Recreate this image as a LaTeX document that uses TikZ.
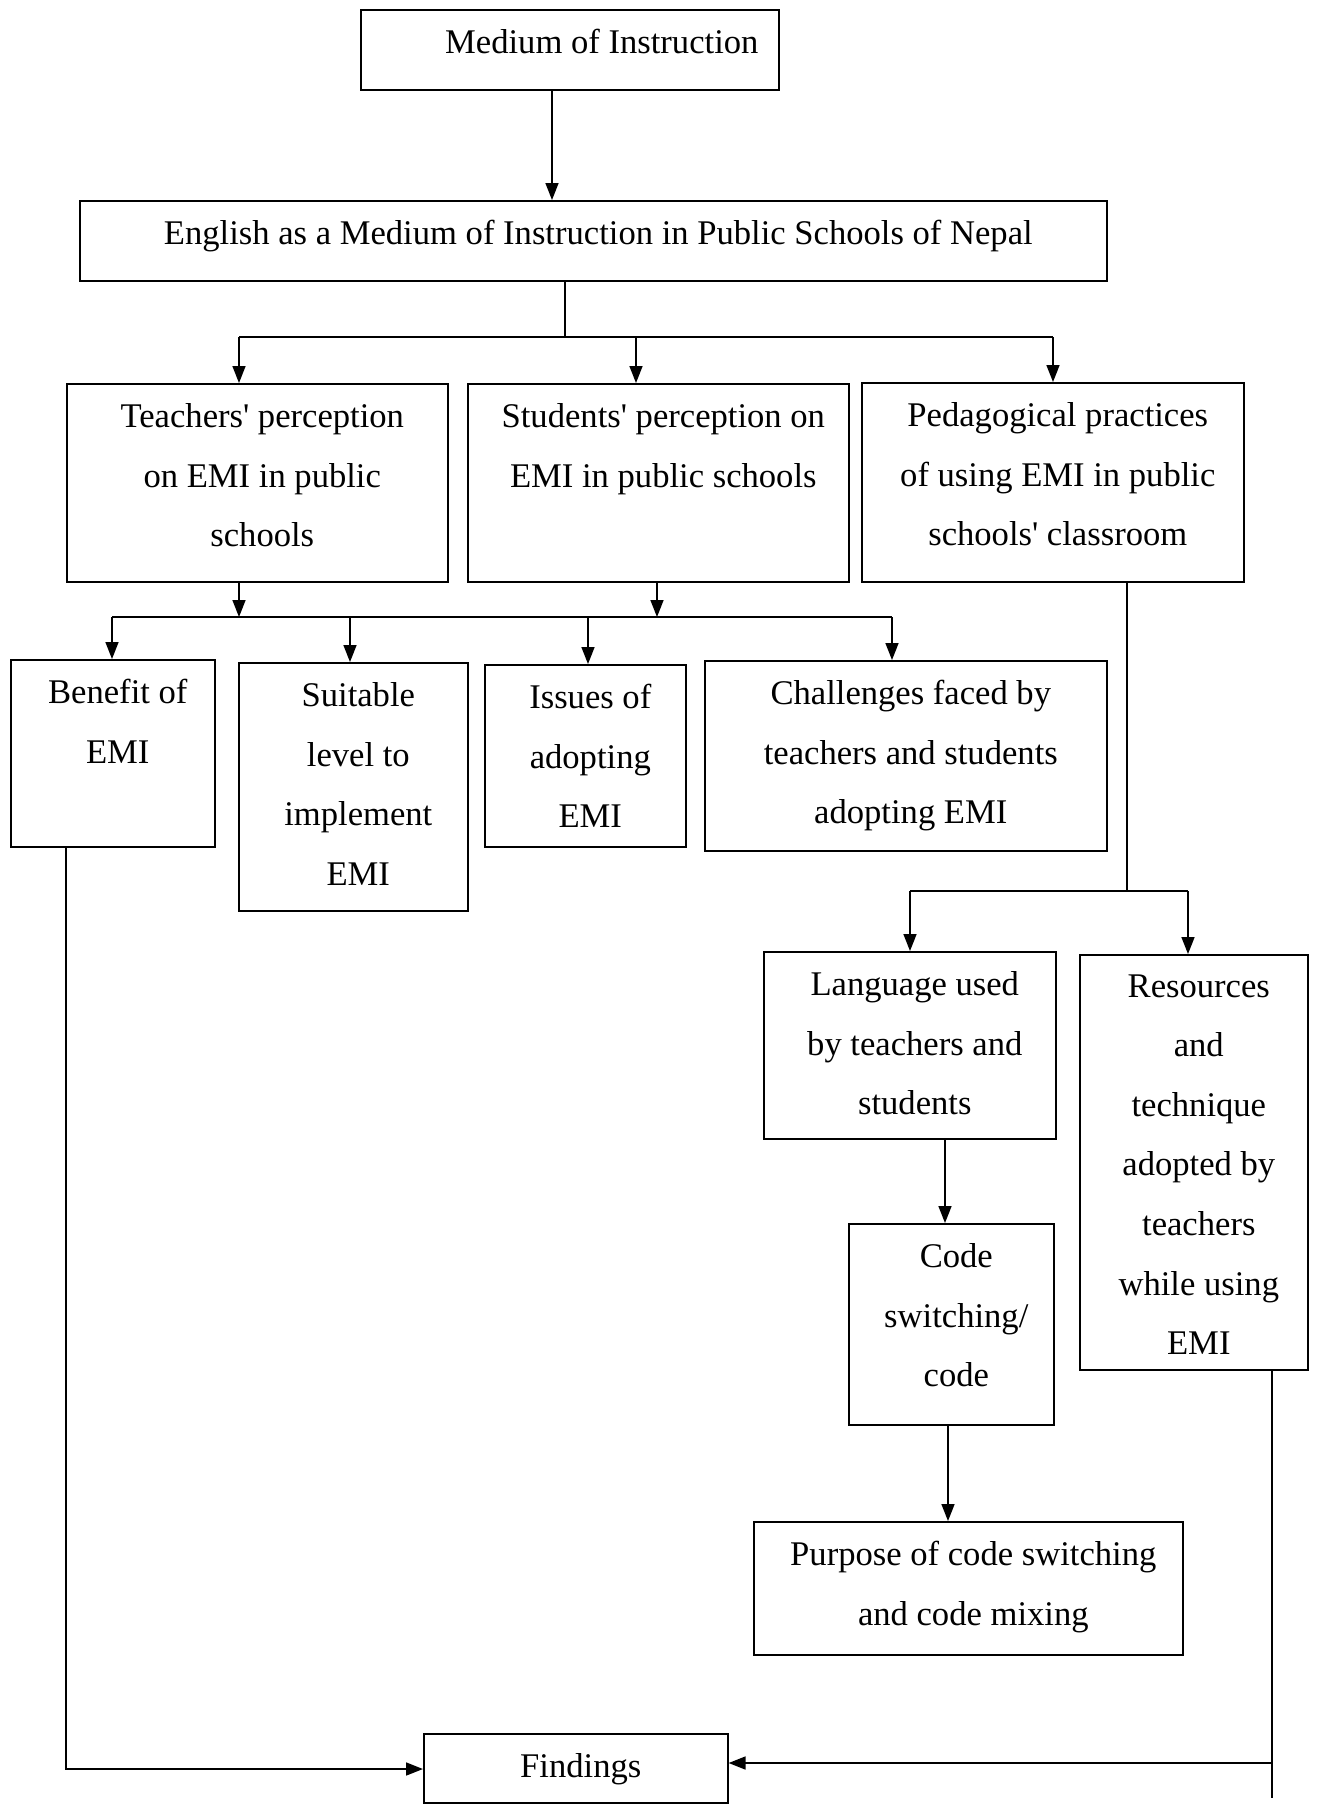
\documentclass[tikz,border=0pt]{standalone}
\usepackage{fontspec}
\setmainfont{Liberation Serif}
\usetikzlibrary{arrows.meta, positioning}

\begin{document}
\begin{tikzpicture}[
    x=0.5pt, y=-0.5pt,
    font=\fontsize{17.3}{29.8}\selectfont,
    box/.style={
        draw,
        line width=0.8pt,
        anchor=north west,
        inner sep=0pt,
    },
    txt/.style={
        anchor=north,
        align=center,
        inner sep=0pt,
        yshift=-10pt,
        xshift=2.5pt,
    },
    arr/.style={
        line width=0.8pt,
        -{Triangle[length=8.5pt, width=6.5pt]},
    },
    wire/.style={
        line width=0.8pt,
    }
]
    % Page frame
    \useasboundingbox (0,0) rectangle (1320,1805);

    % Top boxes
    \node[box, minimum width=209pt, minimum height=40pt,
        label={[txt, xshift=13.5pt]north:{Medium of Instruction}}] (medium) at (360,9) {};
    \node[box, minimum width=513.5pt, minimum height=40pt,
        label={[txt]north:{English as a Medium of Instruction in Public Schools of Nepal}}] (english) at (79,200) {};

    % Three themes
    \node[box, minimum width=190.5pt, minimum height=99pt,
        label={[txt]north:{Teachers\textquotesingle{} perception\\on EMI in public\\schools}}] (teach) at (66,383) {};
    \node[box, minimum width=190.5pt, minimum height=99pt,
        label={[txt]north:{Students\textquotesingle{} perception on\\EMI in public schools}}] (stud) at (467,383) {};
    \node[box, minimum width=191pt, minimum height=99.5pt,
        label={[txt]north:{Pedagogical practices\\of using EMI in public\\schools\textquotesingle{} classroom}}] (ped) at (861,382) {};

    % Perception topics
    \node[box, minimum width=102pt, minimum height=93.5pt,
        label={[txt]north:{Benefit of\\EMI}}] (ben) at (10,659) {};
    \node[box, minimum width=114.5pt, minimum height=124pt,
        label={[txt]north:{Suitable\\level to\\implement\\EMI}}] (suit) at (238,662) {};
    \node[box, minimum width=100.5pt, minimum height=91pt,
        label={[txt]north:{Issues of\\adopting\\EMI}}] (iss) at (484,664) {};
    \node[box, minimum width=201pt, minimum height=95pt,
        label={[txt]north:{Challenges faced by\\teachers and students\\adopting EMI}}] (chal) at (704,660) {};

    % Practice topics
    \node[box, minimum width=146pt, minimum height=93.5pt,
        label={[txt]north:{Language used\\by teachers and\\students}}] (lang) at (763,951) {};
    \node[box, minimum width=114pt, minimum height=207.5pt,
        label={[txt]north:{Resources\\and\\technique\\adopted by\\teachers\\while using\\EMI}}] (res) at (1079,954) {};
    \node[box, minimum width=102.5pt, minimum height=100.5pt,
        label={[txt]north:{Code\\switching/\\code}}] (code) at (848,1223) {};
    \node[box, minimum width=214.5pt, minimum height=66.5pt,
        label={[txt]north:{Purpose of code switching\\and code mixing}}] (purp) at (753,1521) {};

    % Findings
    \node[box, minimum width=152pt, minimum height=34.5pt,
        label={[txt]north:{Findings}}] (find) at (423,1733) {};

    % Junction points
    \coordinate (c1) at (552,140);
    \coordinate (bus1) at (565,337);
    \coordinate (b1l) at (239,337);
    \coordinate (b1m) at (636,337);
    \coordinate (b1r) at (1053,337);
    \coordinate (t2) at (239,617);
    \coordinate (s2) at (657,617);
    \coordinate (b2a) at (112,617);
    \coordinate (b2b) at (350,617);
    \coordinate (b2c) at (588,617);
    \coordinate (b2d) at (892,617);
    \coordinate (p3) at (1127,891);
    \coordinate (b3a) at (910,891);
    \coordinate (b3b) at (1188,891);
    \coordinate (lc) at (945,1180);
    \coordinate (cp) at (948,1470);
    \coordinate (fl) at (66,1769);
    \coordinate (fr) at (1272,1763);
    \coordinate (frend) at (1272,1798);

    % Connectors
    \draw[arr] (medium.south -| c1) -- (english.north -| c1);
    \draw[wire] (english.south -| bus1) -- (bus1);
    \draw[wire] (b1l) -- (b1r);
    \foreach \c/\n in {b1l/teach, b1m/stud, b1r/ped}
        \draw[arr] (\c) -- (\c |- \n.north);

    \draw[arr] (teach.south -| t2) -- (t2);
    \draw[arr] (stud.south -| s2) -- (s2);
    \draw[wire] (b2a) -- (b2d);
    \foreach \c/\n in {b2a/ben, b2b/suit, b2c/iss, b2d/chal}
        \draw[arr] (\c) -- (\c |- \n.north);

    \draw[wire] (ped.south -| p3) -- (p3);
    \draw[wire] (b3a) -- (b3b);
    \foreach \c/\n in {b3a/lang, b3b/res}
        \draw[arr] (\c) -- (\c |- \n.north);

    \draw[arr] (lang.south -| lc) -- (code.north -| lc);
    \draw[arr] (code.south -| cp) -- (purp.north -| cp);

    \draw[arr] (ben.south -| fl) -- (fl) -- (fl -| find.west);
    \draw[wire] (res.south -| fr) -- (frend);
    \draw[arr] (fr) -- (fr -| find.east);

\end{tikzpicture}
\end{document}
